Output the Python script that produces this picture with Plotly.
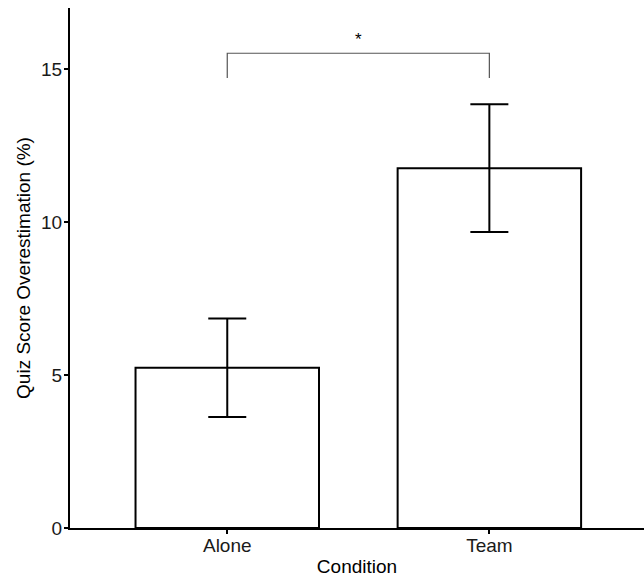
import plotly.graph_objects as go

conditions = ["Alone", "Team"]
means = [5.24, 11.76]
upper = [6.85, 13.85]
lower = [3.63, 9.68]
err_plus = [u - m for u, m in zip(upper, means)]
err_minus = [m - l for m, l in zip(means, lower)]

sig_pair = ["Alone", "Team"]
sig_level = 15.52
sig_tip = 14.71
sig_label = "*"

y_ticks = [0, 5, 10, 15]

FONT = "Liberation Sans, Arial, sans-serif"

fig = go.Figure()
fig.add_trace(go.Bar(
    x=conditions, y=means, width=0.7,
    marker=dict(color="white", line=dict(color="black", width=2)),
    error_y=dict(type="data", symmetric=False, array=err_plus, arrayminus=err_minus,
                 color="black", thickness=2, width=19),
    showlegend=False,
))

fig.add_shape(type="path",
              path=f"M 0,{sig_tip} L 0,{sig_level} L 1,{sig_level} L 1,{sig_tip}",
              xref="x", yref="y", line=dict(color="#555555", width=1.2))
fig.add_annotation(x=0.5, y=sig_level, xref="x", yref="y", text=sig_label,
                   showarrow=False, yanchor="bottom", yshift=2,
                   font=dict(family=FONT, size=17, color="black"))

fig.update_layout(
    width=644, height=577,
    margin=dict(l=70, r=0, t=8, b=49),
    plot_bgcolor="white", paper_bgcolor="white",
    font=dict(family=FONT, size=19, color="black"),
    xaxis=dict(
        type="category", range=[-0.6, 1.59],
        showline=True, linecolor="black", linewidth=2,
        ticks="outside", ticklen=4, tickwidth=1.5, tickcolor="black",
        ticklabelstandoff=-5,
        showgrid=False, zeroline=False,
        title=dict(text="Condition", standoff=7, font=dict(size=19)),
        tickfont=dict(size=19, color="#1a1a1a"),
    ),
    yaxis=dict(
        range=[0, 17], tickvals=y_ticks,
        showline=True, linecolor="black", linewidth=2,
        ticks="outside", ticklen=4, tickwidth=1.5, tickcolor="black",
        ticklabelstandoff=-2,
        showgrid=False, zeroline=False,
        title=dict(text="Quiz Score Overestimation (%)", standoff=5, font=dict(size=19)),
        tickfont=dict(size=19, color="#1a1a1a"),
    ),
    bargap=0.3,
)

fig.write_html("out.html")
